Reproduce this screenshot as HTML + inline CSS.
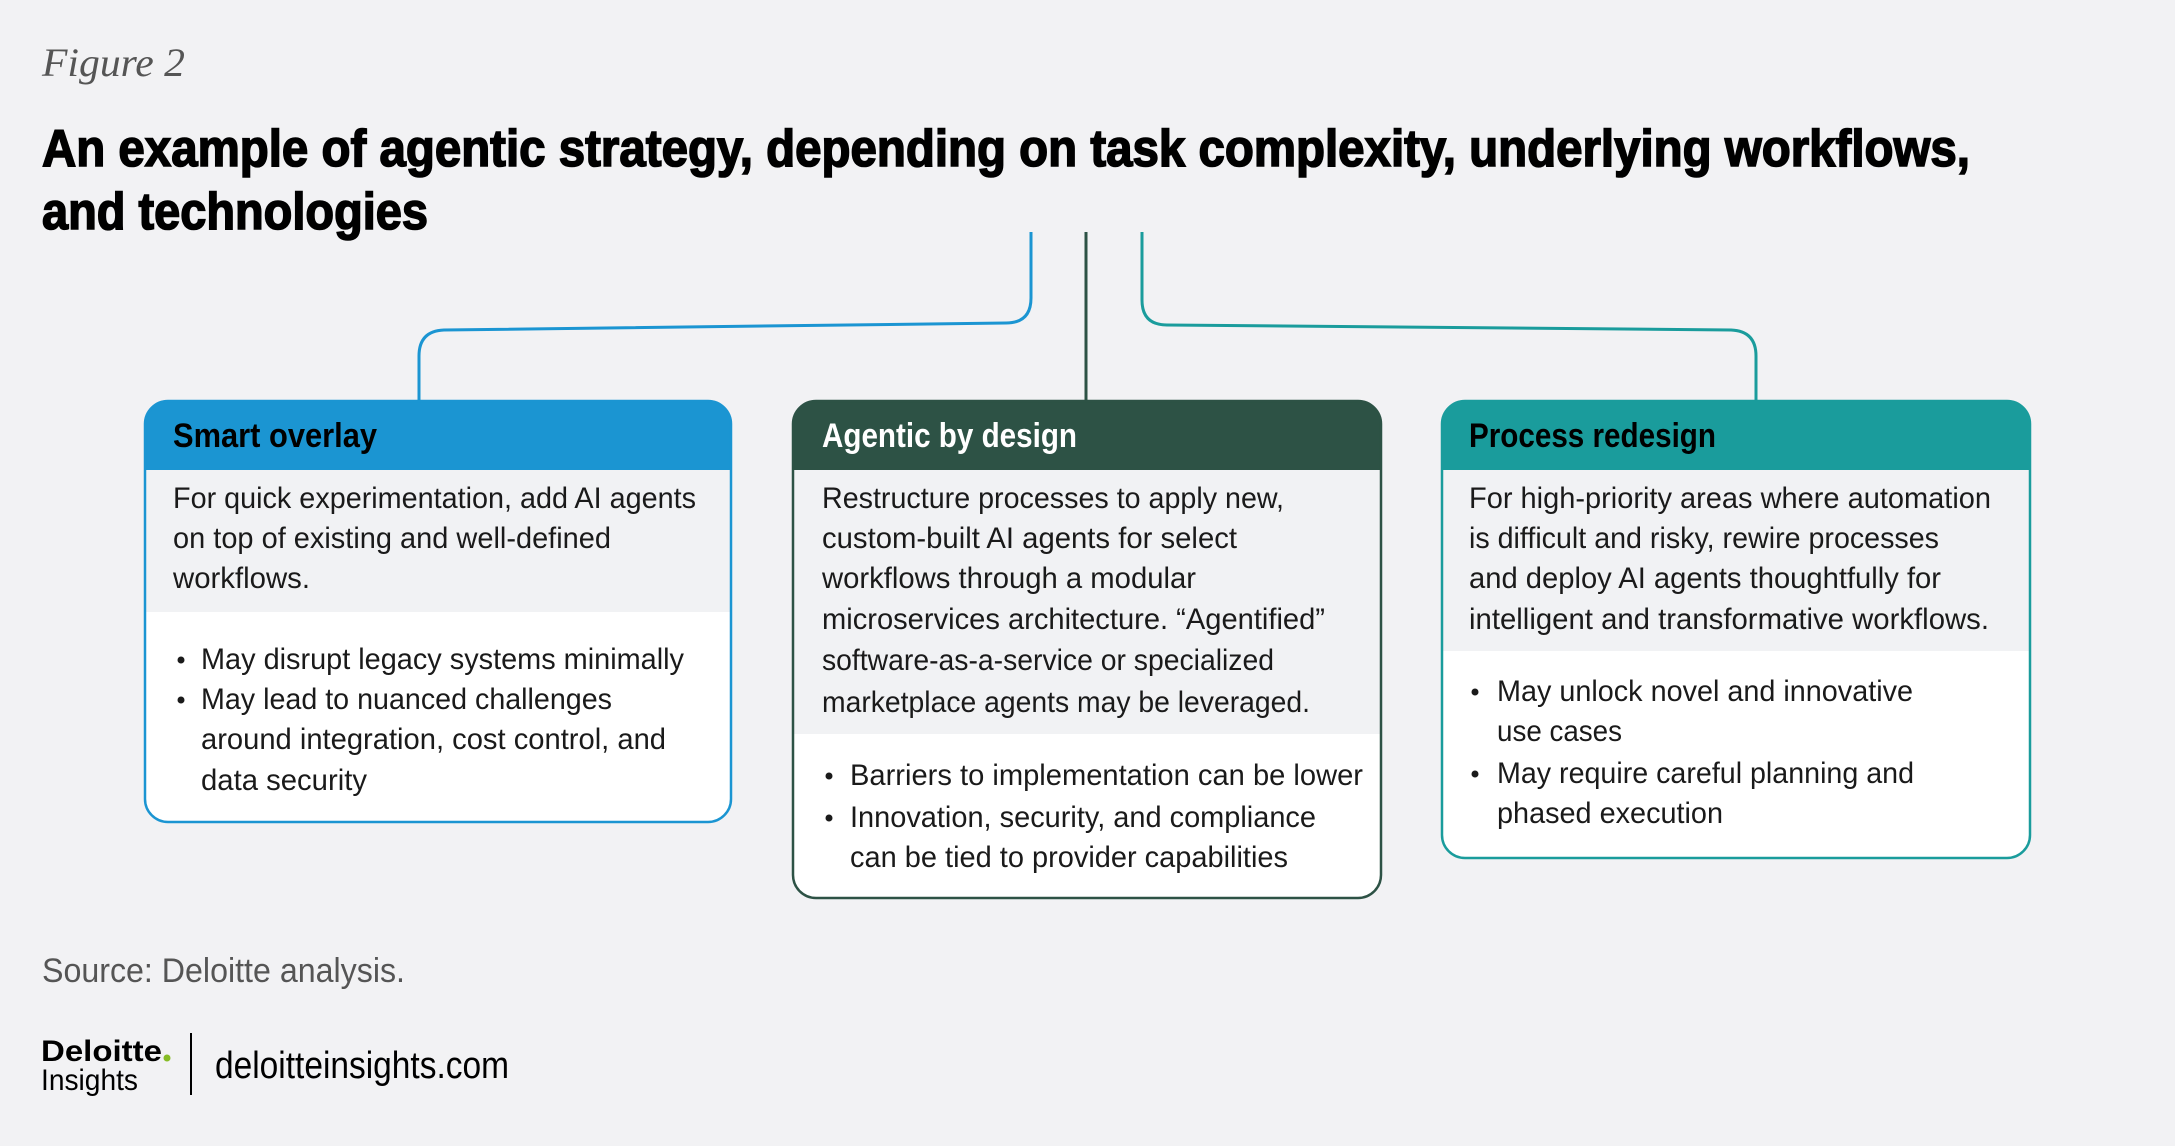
<!DOCTYPE html>
<html><head><meta charset="utf-8"><style>html,body{margin:0;padding:0;background:#f2f2f4}svg{display:block}</style></head>
<body>
<svg width="2175" height="1146" viewBox="0 0 2175 1146" xmlns="http://www.w3.org/2000/svg">
<rect width="2175" height="1146" fill="#f2f2f4"/>
<defs>
<clipPath id="c1"><rect x="144" y="400" width="588" height="423" rx="24"/></clipPath>
<clipPath id="c2"><rect x="792" y="400" width="590" height="499" rx="24"/></clipPath>
<clipPath id="c3"><rect x="1441" y="400" width="590" height="459" rx="24"/></clipPath>
</defs>
<g font-family="Liberation Serif, serif" font-style="italic" fill="#555">
<text x="42" y="76" font-size="40" textLength="143" lengthAdjust="spacingAndGlyphs">Figure 2</text>
</g>
<g font-family="'Liberation Sans Narrow','Liberation Sans',sans-serif" font-weight="bold" fill="#000" stroke="#000" stroke-width="1.6" font-size="52">
<text x="42" y="166" textLength="1928" lengthAdjust="spacingAndGlyphs">An example of agentic strategy, depending on task complexity, underlying workflows,</text>
<text x="42" y="229" textLength="386" lengthAdjust="spacingAndGlyphs">and technologies</text>
</g>
<g fill="none" stroke-width="3">
<path d="M1031 232 V298 Q1031 323 1006 323 L444 330 Q419 331 419 356 V400" stroke="#1b95d2"/>
<line x1="1086" y1="232" x2="1086" y2="400" stroke="#2d5245"/>
<path d="M1142 232 V300 Q1142 325 1167 325 L1731 330 Q1756 331 1756 356 V400" stroke="#1a9c9c"/>
</g>
<g clip-path="url(#c1)"><rect x="144" y="400" width="588" height="423" fill="#fff"/><rect x="144" y="400" width="588" height="70" fill="#1b95d2"/><rect x="144" y="470" width="588" height="142" fill="#f1f2f4"/></g>
<rect x="145" y="401" width="586" height="421" rx="23" fill="none" stroke="#1b95d2" stroke-width="2.5"/>
<g clip-path="url(#c2)"><rect x="792" y="400" width="590" height="499" fill="#fff"/><rect x="792" y="400" width="590" height="70" fill="#2d5245"/><rect x="792" y="470" width="590" height="264" fill="#f1f2f4"/></g>
<rect x="793" y="401" width="588" height="497" rx="23" fill="none" stroke="#2d5245" stroke-width="2.5"/>
<g clip-path="url(#c3)"><rect x="1441" y="400" width="590" height="459" fill="#fff"/><rect x="1441" y="400" width="590" height="70" fill="#1a9c9c"/><rect x="1441" y="470" width="590" height="181" fill="#f1f2f4"/></g>
<rect x="1442" y="401" width="588" height="457" rx="23" fill="none" stroke="#1a9c9c" stroke-width="2.5"/>
<g font-family="'Liberation Sans Narrow','Liberation Sans',sans-serif" font-weight="bold" font-size="34">
<text x="173" y="447" fill="#000" textLength="204" lengthAdjust="spacingAndGlyphs">Smart overlay</text>
<text x="822" y="447" fill="#fff" textLength="255" lengthAdjust="spacingAndGlyphs">Agentic by design</text>
<text x="1469" y="447" fill="#000" textLength="247" lengthAdjust="spacingAndGlyphs">Process redesign</text>
</g>
<g font-family="'Liberation Sans Narrow','Liberation Sans',sans-serif" font-size="30" fill="#1a1a1a">
<text x="173" y="508" textLength="523" lengthAdjust="spacingAndGlyphs">For quick experimentation, add AI agents</text>
<text x="173" y="548" textLength="438" lengthAdjust="spacingAndGlyphs">on top of existing and well-defined</text>
<text x="173" y="588" textLength="137" lengthAdjust="spacingAndGlyphs">workflows.</text>
<text x="201" y="669" textLength="483" lengthAdjust="spacingAndGlyphs">May disrupt legacy systems minimally</text>
<text x="201" y="709" textLength="411" lengthAdjust="spacingAndGlyphs">May lead to nuanced challenges</text>
<text x="201" y="749" textLength="465" lengthAdjust="spacingAndGlyphs">around integration, cost control, and</text>
<text x="201" y="790" textLength="166" lengthAdjust="spacingAndGlyphs">data security</text>
<text x="822" y="508" textLength="462" lengthAdjust="spacingAndGlyphs">Restructure processes to apply new,</text>
<text x="822" y="548" textLength="415" lengthAdjust="spacingAndGlyphs">custom-built AI agents for select</text>
<text x="822" y="588" textLength="374" lengthAdjust="spacingAndGlyphs">workflows through a modular</text>
<text x="822" y="629" textLength="503" lengthAdjust="spacingAndGlyphs">microservices architecture. “Agentified”</text>
<text x="822" y="670" textLength="452" lengthAdjust="spacingAndGlyphs">software-as-a-service or specialized</text>
<text x="822" y="712" textLength="488" lengthAdjust="spacingAndGlyphs">marketplace agents may be leveraged.</text>
<text x="850" y="785" textLength="513" lengthAdjust="spacingAndGlyphs">Barriers to implementation can be lower</text>
<text x="850" y="827" textLength="466" lengthAdjust="spacingAndGlyphs">Innovation, security, and compliance</text>
<text x="850" y="867" textLength="438" lengthAdjust="spacingAndGlyphs">can be tied to provider capabilities</text>
<text x="1469" y="508" textLength="522" lengthAdjust="spacingAndGlyphs">For high-priority areas where automation</text>
<text x="1469" y="548" textLength="470" lengthAdjust="spacingAndGlyphs">is difficult and risky, rewire processes</text>
<text x="1469" y="588" textLength="472" lengthAdjust="spacingAndGlyphs">and deploy AI agents thoughtfully for</text>
<text x="1469" y="629" textLength="520" lengthAdjust="spacingAndGlyphs">intelligent and transformative workflows.</text>
<text x="1497" y="701" textLength="416" lengthAdjust="spacingAndGlyphs">May unlock novel and innovative</text>
<text x="1497" y="741" textLength="125" lengthAdjust="spacingAndGlyphs">use cases</text>
<text x="1497" y="783" textLength="417" lengthAdjust="spacingAndGlyphs">May require careful planning and</text>
<text x="1497" y="823" textLength="226" lengthAdjust="spacingAndGlyphs">phased execution</text>
</g>
<g fill="#1a1a1a">
<circle cx="181" cy="660" r="3.5"/><circle cx="181" cy="700" r="3.5"/>
<circle cx="829" cy="776" r="3.5"/><circle cx="829" cy="818" r="3.5"/>
<circle cx="1475" cy="692" r="3.5"/><circle cx="1475" cy="774" r="3.5"/>
</g>
<g font-family="'Liberation Sans Narrow','Liberation Sans',sans-serif" fill="#555">
<text x="42" y="982" font-size="34" textLength="363" lengthAdjust="spacingAndGlyphs">Source: Deloitte analysis.</text>
</g>
<g font-family="'Liberation Sans',sans-serif" fill="#000">
<text x="41" y="1061" font-size="30" font-weight="bold" textLength="121" lengthAdjust="spacingAndGlyphs">Deloitte</text>
<circle cx="167" cy="1058" r="3.5" fill="#86bc25"/>
<text x="41" y="1090" font-size="30" textLength="97" lengthAdjust="spacingAndGlyphs">Insights</text>
<rect x="190" y="1033" width="2" height="62" fill="#000"/>
<text x="215" y="1078" font-size="38" textLength="294" lengthAdjust="spacingAndGlyphs">deloitteinsights.com</text>
</g>
</svg>
</body></html>
